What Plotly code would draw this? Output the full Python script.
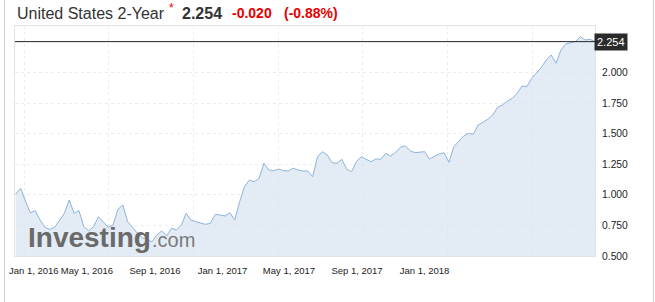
import pandas as pd
import plotly.graph_objects as go

# ---- data (weekly closes) ----
start_date = "2015-12-20"
yield_values = [
    1.007, 1.054, 0.950, 0.854, 0.871, 0.795, 0.735, 0.718, 0.735, 0.790,
    0.849, 0.958, 0.849, 0.871, 0.740, 0.707, 0.740, 0.822, 0.780, 0.735,
    0.754, 0.882, 0.917, 0.780, 0.735, 0.686, 0.650, 0.631, 0.617, 0.672,
    0.705, 0.664, 0.727, 0.713, 0.750, 0.849, 0.795, 0.780, 0.770, 0.759,
    0.768, 0.841, 0.835, 0.827, 0.854, 0.795, 0.944, 1.067, 1.122, 1.108,
    1.136, 1.259, 1.204, 1.198, 1.212, 1.198, 1.196, 1.218, 1.204, 1.196,
    1.196, 1.149, 1.313, 1.354, 1.327, 1.264, 1.259, 1.291, 1.209, 1.190,
    1.272, 1.313, 1.291, 1.272, 1.294, 1.291, 1.340, 1.318, 1.345, 1.389,
    1.403, 1.362, 1.345, 1.349, 1.354, 1.294, 1.313, 1.335, 1.345, 1.267,
    1.394, 1.440, 1.482, 1.504, 1.496, 1.572, 1.594, 1.619, 1.654, 1.717,
    1.736, 1.768, 1.790, 1.831, 1.891, 1.886, 1.954, 1.995, 2.044, 2.104,
    2.145, 2.077, 2.186, 2.235, 2.246, 2.254, 2.295, 2.268, 2.273, 2.254,
]
dates = pd.date_range(start_date, periods=len(yield_values), freq="7D")

y_ticks = [0.5, 0.75, 1.0, 1.25, 1.5, 1.75, 2.0]
x_label_text = ["Jan 1, 2016", "May 1, 2016", "Sep 1, 2016", "Jan 1, 2017",
                "May 1, 2017", "Sep 1, 2017", "Jan 1, 2018"]
# label positions on the (compressed) label axis; first one nudged to stay inside
x_label_dates = ["2016-01-26", "2016-05-01", "2016-09-01", "2017-01-01",
                 "2017-05-01", "2017-09-01", "2018-01-01"]

title_name = "United States 2-Year"
last_price = "2.254"
change_abs = "-0.020"
change_pct = "(-0.88%)"

W, H = 655, 302
ML, MR, MT, MB = 15, 60, 26, 46
PW, PH = W - ML - MR, H - MT - MB
FONT = "Arial, Liberation Sans, sans-serif"


def px(xp):
    return (xp - ML) / PW


def py(yp):
    return (H - MB - yp) / PH


fig = go.Figure()
fig.add_trace(go.Scatter(
    x=dates, y=yield_values, mode="lines",
    line=dict(color="#8db4dd", width=1),
    fill="tozeroy", fillcolor="rgba(218,230,242,0.75)",
    hoverinfo="skip", showlegend=False,
))
fig.add_trace(go.Scatter(
    x=x_label_dates, y=[y_ticks[0]] * len(x_label_dates), xaxis="x2",
    mode="markers", marker=dict(opacity=0), hoverinfo="skip", showlegend=False,
))

last = yield_values[-1]
fig.add_shape(type="line", xref="paper", x0=0, x1=1, yref="y", y0=last, y1=last,
              line=dict(color="#222222", width=1))
# outer container border
for xb in (4.5, 653.5):
    fig.add_shape(type="line", xref="paper", x0=px(xb), x1=px(xb),
                  yref="paper", y0=py(H), y1=py(0),
                  line=dict(color="#d0d0d0", width=1))

annos = []
annos.append(dict(text=last_price, x=1, xref="paper", y=last, yref="y",
                  xanchor="left", yanchor="middle", showarrow=False,
                  bgcolor="#2b2b2b", borderpad=2, xshift=-1,
                  font=dict(family=FONT, size=11, color="#ffffff")))
# title row
annos.append(dict(text=title_name, x=px(15), xref="paper", y=py(13), yref="paper",
                  xanchor="left", yanchor="middle", showarrow=False,
                  font=dict(family=FONT, size=16, color="#333333")))
annos.append(dict(text="*", x=px(167), xref="paper", y=py(8), yref="paper",
                  xanchor="left", yanchor="middle", showarrow=False,
                  font=dict(family=FONT, size=12, color="#e60000")))
annos.append(dict(text="<b>" + last_price + "</b>", x=px(180), xref="paper", y=py(13),
                  yref="paper", xanchor="left", yanchor="middle", showarrow=False,
                  font=dict(family=FONT, size=16, color="#333333")))
annos.append(dict(text="<b>" + change_abs + "</b>", x=px(230), xref="paper", y=py(13),
                  yref="paper", xanchor="left", yanchor="middle", showarrow=False,
                  font=dict(family=FONT, size=14, color="#e60000")))
annos.append(dict(text="<b>" + change_pct + "</b>", x=px(282), xref="paper", y=py(13),
                  yref="paper", xanchor="left", yanchor="middle", showarrow=False,
                  font=dict(family=FONT, size=14, color="#e60000")))
# watermark
annos.append(dict(text="<b>Investing</b>", x=px(27), xref="paper", y=py(237), yref="paper",
                  xanchor="left", yanchor="middle", showarrow=False, borderpad=0,
                  font=dict(family=FONT, size=28, color="#6a6a6a")))
annos.append(dict(text=".com", x=px(150.5), xref="paper", y=py(240), yref="paper",
                  xanchor="left", yanchor="middle", showarrow=False, borderpad=0,
                  font=dict(family=FONT, size=20, color="#7a7a7a")))

fig.update_layout(
    width=W, height=H,
    margin=dict(l=ML, r=MR, t=MT, b=MB, pad=0, autoexpand=False),
    paper_bgcolor="#ffffff", plot_bgcolor="#ffffff",
    showlegend=False,
    annotations=annos,
    xaxis=dict(
        type="date", range=["2015-12-19", "2018-04-01"],
        tick0="2016-01-01", dtick="M4", showticklabels=False, ticks="",
        showgrid=True, gridcolor="#ececec", griddash="dot", gridwidth=1,
        showline=True, linecolor="#e3e3e3", linewidth=1, mirror=True,
        zeroline=False, fixedrange=True, automargin=False,
    ),
    xaxis2=dict(
        type="date", overlaying="x", anchor="y", side="bottom",
        range=["2015-12-23", "2018-11-05"],
        tickmode="array", tickvals=x_label_dates, ticktext=x_label_text,
        tickangle=0, automargin=False,
        showgrid=False, showline=False, zeroline=False, ticks="",
        ticklabelstandoff=7,
        tickfont=dict(family=FONT, size=9.5, color="#222222"),
    ),
    yaxis=dict(
        side="right", range=[0.5, 2.382], automargin=False,
        tickmode="array", tickvals=y_ticks, tickformat=".3f",
        showgrid=True, gridcolor="#ececec", griddash="dot", gridwidth=1,
        showline=True, linecolor="#e3e3e3", linewidth=1, mirror=True,
        zeroline=False, ticks="", ticklabelstandoff=4,
        tickfont=dict(family=FONT, size=10.3, color="#222222"),
    ),
)

fig.write_html("out.html")
